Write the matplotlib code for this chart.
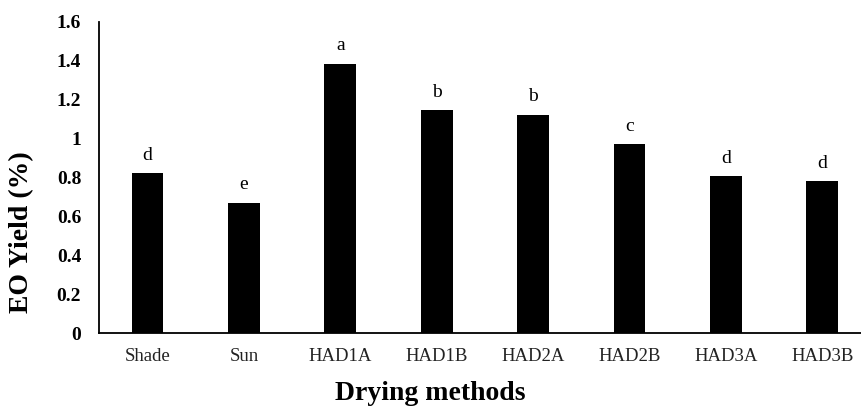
import matplotlib
matplotlib.use("Agg")
from matplotlib import pyplot as plt
import numpy as np

# EO yield per drying method, with significance letters
methods = ["Shade", "Sun", "HAD1A", "HAD1B", "HAD2A", "HAD2B", "HAD3A", "HAD3B"]
eo_yield = [0.82, 0.67, 1.385, 1.145, 1.12, 0.97, 0.805, 0.78]
letters = ["d", "e", "a", "b", "b", "c", "d", "d"]
y_ticks = [0, 0.2, 0.4, 0.6, 0.8, 1, 1.2, 1.4, 1.6]
y_tick_labels = ["0", "0.2", "0.4", "0.6", "0.8", "1", "1.2", "1.4", "1.6"]

plt.rcParams['font.family'] = ['Liberation Serif', 'DejaVu Serif']

fig = plt.figure(figsize=(8.61, 4.07), dpi=100)
# axes runs a little past the right edge of the figure
ax = fig.add_axes([99.3 / 861, 74 / 407, 771.2 / 861, 311.3 / 407])

x = np.arange(len(methods))
bars = ax.bar(x, eo_yield, width=0.33, color="black")

for xi, val, lab in zip(x, eo_yield, letters):
    ax.annotate(lab, (xi, val), xytext=(0, 7), textcoords="offset points",
                ha="center", va="bottom", fontsize=14)

ax.set_xlim(-0.5, len(methods) - 0.5)
ax.set_ylim(0, 1.6)
ax.set_xticks(x)
ax.set_xticklabels(methods, fontsize=13.5, color="#222222")
ax.set_yticks(y_ticks)
ax.set_yticklabels(y_tick_labels, fontsize=14, fontweight="bold")
ax.tick_params(axis="x", length=0, pad=11)
ax.tick_params(axis="y", length=0, pad=13)

for side in ["top", "right"]:
    ax.spines[side].set_visible(False)
for side in ["left", "bottom"]:
    ax.spines[side].set_linewidth(1.3)
    ax.spines[side].set_color("black")

fig.text(22 / 861, 1 - 232 / 407, "EO Yield (%)", rotation=90,
         ha="center", va="center", fontsize=20, fontweight="bold")
fig.text(0.5, 1 / 407, "Drying methods", ha="center", va="bottom",
         fontsize=20, fontweight="bold")

fig.savefig("out.png", dpi=100)
